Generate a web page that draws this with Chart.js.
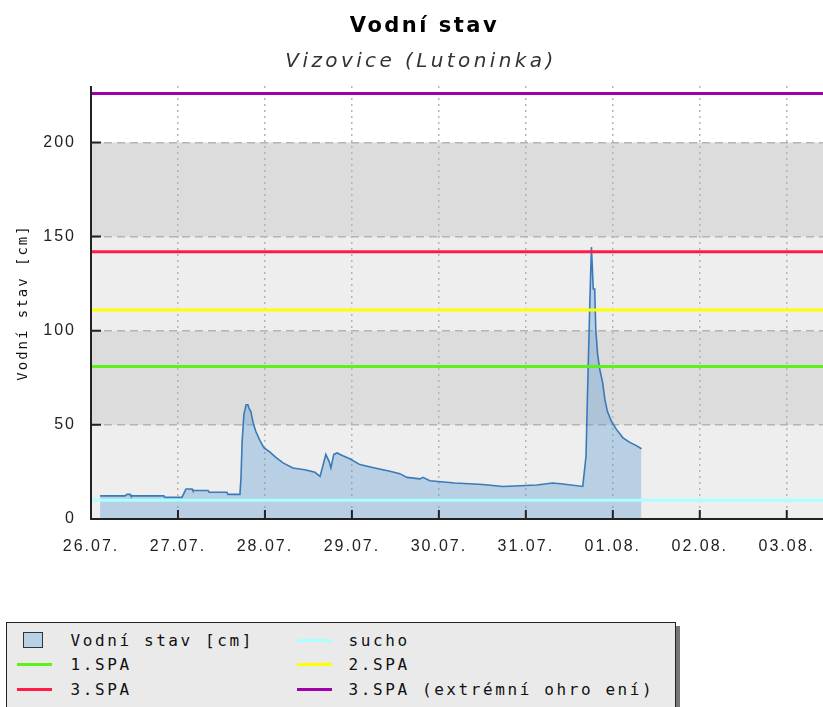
<!DOCTYPE html>
<html>
<head>
<meta charset="utf-8">
<script src="https://cdn.jsdelivr.net/npm/chart.js@4/dist/chart.umd.min.js"></script>
<style>
html,body{margin:0;padding:0;background:#fff;}
#wrap{position:relative;width:823px;height:707px;overflow:hidden;}
#box{position:absolute;left:0;top:0;width:823px;height:560px;}
.t{position:absolute;left:0;white-space:nowrap;text-align:center;color:#000;}
#title{top:15px;width:849px;font:bold 21px/21px "DejaVu Sans";letter-spacing:2.5px;}
#sub{top:50px;width:842px;font:italic 20px/20px "DejaVu Sans";letter-spacing:3.4px;color:#333;}
#legend{position:absolute;left:6px;top:622px;width:668px;height:110px;background:#eaeaea;border:1.5px solid #222;box-shadow:4px 4px 0 #777;font:16px/16px "DejaVu Sans Mono";letter-spacing:2.6px;color:#111;}
#legend .sw{position:absolute;left:16px;top:9px;width:18px;height:14px;background:#b9d1e6;border:1.5px solid #333;}
#legend .ln{position:absolute;width:35px;height:3px;}
#legend .tx{position:absolute;white-space:nowrap;}
</style>
</head>
<body>
<div id="wrap">
  <div id="box"><canvas id="levelChart"></canvas></div>
  <div class="t" id="title">Vodní stav</div>
  <div class="t" id="sub">Vizovice (Lutoninka)</div>
  <div id="legend"></div>
</div>
<script>
// tick labels (one per day, 24 h apart)
const dayLabels = ['26.07.','27.07.','28.07.','29.07.','30.07.','31.07.','01.08.','02.08.','03.08.'];

// water level: hours since 26.07. 00:00 and level in cm
const hours = [2.5, 9.4, 9.9, 10.8, 11.0, 20.1, 20.4, 25.1, 26.2, 27.9, 28.1, 32.3, 32.6, 37.5, 37.8,
  41.1, 41.4, 41.7, 42.2, 42.8, 43.3, 43.6, 44.1, 44.7, 45.5, 46.6, 47.7, 49.4, 51.0, 53.0,
  55.7, 59.0, 61.8, 63.2, 63.7, 64.8, 65.7, 66.2, 67.0, 67.9, 69.5, 71.4, 74.2, 78.3, 82.5,
  85.2, 87.2, 90.8, 91.6, 93.5, 100.4, 108.1, 113.7, 123.0, 127.4, 130.2, 135.7, 136.0, 136.6,
  137.0, 137.7, 138.1, 138.6, 139.0, 139.3, 139.8, 140.4, 141.2, 141.8, 142.5, 143.6, 145.0,
  146.8, 148.7, 150.5, 151.9];
const level = [12.3, 12.3, 13.1, 13.1, 12.3, 12.3, 11.5, 11.5, 15.9, 15.9, 15.1, 15.1, 14.2, 14.2, 13.1,
  13.1, 22.3, 41.1, 55.6, 60.7, 60.7, 58.7, 57.2, 51.4, 46.5, 41.8, 37.9, 35.5, 32.7, 29.8,
  27.1, 26.2, 24.8, 22.6, 26.2, 34.3, 30.6, 27.1, 34.3, 35.1, 33.6, 32.0, 28.9, 27.1, 25.4,
  24.1, 22.1, 21.3, 22.1, 20.3, 19.1, 18.3, 17.3, 18.1, 19.1, 18.6, 17.3, 22.6, 33.3,
  65.2, 118.2, 144.4, 122.2, 122.2, 100.7, 87.4, 79.4, 72.4, 63.5, 57.2, 51.9, 47.6,
  43.1, 40.7, 39.0, 37.3];

// limits (cm)
const limitNames  = ['sucho','1.SPA','2.SPA','3.SPA','3.SPA (extrémní ohro ení)'];
const limitValues = [10, 81, 111, 142, 226];
const limitColors = ['#aaffff','#5ff01a','#ffff00','#ff1a4a','#a000aa'];

const xMax = 202, yMax = 230;
const seriesName = 'Vodní stav [cm]';
const fillColor = 'rgba(87,149,209,0.35)';
const lineColor = '#3a7ab8';

// background bands between the labelled ticks
const bands = {
  id:'bands',
  beforeDraw(chart){
    const {ctx, chartArea:a, scales:{y}} = chart;
    ctx.save();
    [[0,50,'#eeeeee'],[50,100,'#dcdcdc'],[100,150,'#eeeeee'],[150,200,'#dcdcdc']].forEach(([lo,hi,c])=>{
      const top=y.getPixelForValue(hi), bot=y.getPixelForValue(lo);
      ctx.fillStyle=c;
      ctx.fillRect(a.left, top, a.right-a.left, bot-top);
    });
    ctx.restore();
    ctx.letterSpacing='2px';
  },
  afterDraw(chart){ chart.ctx.letterSpacing='0px'; }
};

// axis lines with inward ticks
const axes = {
  id:'axes',
  afterDatasetsDraw(chart){
    const {ctx, chartArea:a, scales:{x,y}} = chart;
    ctx.save();
    ctx.strokeStyle='#222'; ctx.lineWidth=2;
    ctx.beginPath();
    ctx.moveTo(a.left, a.top); ctx.lineTo(a.left, a.bottom); ctx.lineTo(a.right, a.bottom);
    y.ticks.forEach(t=>{
      const py=y.getPixelForValue(t.value);
      ctx.moveTo(a.left, py); ctx.lineTo(a.left+(t.value%50===0?10:7), py);
    });
    x.ticks.forEach(t=>{
      const px=x.getPixelForValue(t.value);
      ctx.moveTo(px, a.bottom); ctx.lineTo(px, a.bottom-9);
    });
    ctx.stroke();
    ctx.restore();
  }
};

const datasets = [{
  label: seriesName,
  data: hours.map((h,i)=>({x:h, y:level[i]})),
  borderColor: lineColor, borderWidth: 1.6,
  backgroundColor: fillColor, fill: 'origin',
  order: 1
}];
limitValues.forEach((v,i)=>{
  datasets.push({
    label: limitNames[i],
    data: [{x:0,y:v},{x:xMax,y:v}],
    borderColor: limitColors[i], borderWidth: 3,
    fill: false, order: 0
  });
});

const tickFont = {family:'Liberation Sans', size:16};

new Chart(document.getElementById('levelChart'), {
  type: 'line',
  data: {datasets},
  options: {
    responsive:true, maintainAspectRatio:false, animation:false,
    layout:{padding:{left:10, top:86, right:0, bottom:0}},
    elements:{point:{radius:0}, line:{tension:0}},
    plugins:{legend:{display:false}, tooltip:{enabled:false}, title:{display:false}},
    scales:{
      x:{
        type:'linear', min:0, max:xMax,
        afterFit(s){ s.height=41; s.paddingRight=0; },
        grid:{color:'#b4b4b4', lineWidth:1.5, drawTicks:false},
        border:{display:false, dash:[2,4]},
        ticks:{stepSize:24, includeBounds:false, autoSkip:false, maxRotation:0, padding:18,
          color:'#222', font:tickFont, callback:v=>dayLabels[Math.round(v/24)] ?? null}
      },
      y:{
        min:0, max:yMax,
        afterFit(s){ s.width=81; },
        grid:{color:c=>c.tick && c.tick.value>0 ? '#b4b4b4' : 'rgba(0,0,0,0)', lineWidth:1.5, drawTicks:false},
        border:{display:false, dash:[8,5]},
        ticks:{stepSize:10, includeBounds:false, padding:15, color:'#222', font:tickFont,
          callback:v=>v%50===0 ? v : null},
        title:{display:true, text:seriesName, color:'#111',
          font:{family:'DejaVu Sans Mono', size:14}, padding:{top:5,bottom:0}}
      }
    }
  },
  plugins:[bands, axes]
});

// legend, two columns
const legend = document.getElementById('legend');
const items = [
  {name: seriesName, box:true, col:0, row:0},
  {name: limitNames[0], color: limitColors[0], col:1, row:0},
  {name: limitNames[1], color: limitColors[1], col:0, row:1},
  {name: limitNames[2], color: limitColors[2], col:1, row:1},
  {name: limitNames[3], color: limitColors[3], col:0, row:2},
  {name: limitNames[4], color: limitColors[4], col:1, row:2}
];
items.forEach(it=>{
  const top = 9.5 + it.row*24.5;
  if(it.box){
    const s=document.createElement('div'); s.className='sw'; legend.appendChild(s);
  } else {
    const l=document.createElement('div'); l.className='ln';
    l.style.left=(it.col?289.5:9.5)+'px'; l.style.top=(top+6)+'px'; l.style.background=it.color;
    legend.appendChild(l);
  }
  const t=document.createElement('div'); t.className='tx';
  t.style.left=(it.col?341.5:63.5)+'px'; t.style.top=top+'px'; t.textContent=it.name;
  legend.appendChild(t);
});
</script>
</body>
</html>
